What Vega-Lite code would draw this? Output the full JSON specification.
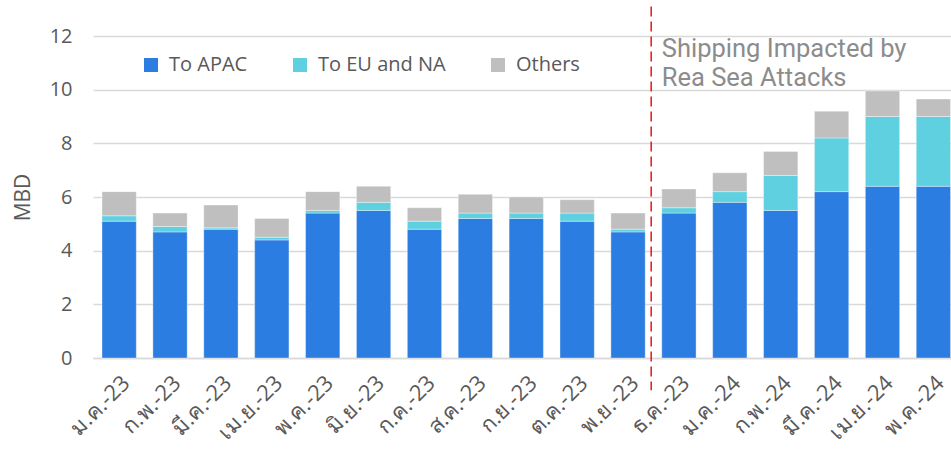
{
  "$schema": "https://vega.github.io/schema/vega-lite/v6.json",
  "width": 858,
  "height": 322,
  "autosize": {"type": "none"},
  "padding": {"left": 93, "top": 36, "right": 0, "bottom": 94},
  "background": "#ffffff",
  "config": {"view": {"stroke": null}, "font": "Open Sans"},
  "datasets": {
    "bars": [
      {"month": "ม.ค.-23", "series": "To APAC", "rank": 1, "value": 5.1},
      {"month": "ม.ค.-23", "series": "To EU and NA", "rank": 2, "value": 0.2},
      {"month": "ม.ค.-23", "series": "Others", "rank": 3, "value": 0.9},
      {"month": "ก.พ.-23", "series": "To APAC", "rank": 1, "value": 4.7},
      {"month": "ก.พ.-23", "series": "To EU and NA", "rank": 2, "value": 0.2},
      {"month": "ก.พ.-23", "series": "Others", "rank": 3, "value": 0.5},
      {"month": "มี.ค.-23", "series": "To APAC", "rank": 1, "value": 4.8},
      {"month": "มี.ค.-23", "series": "To EU and NA", "rank": 2, "value": 0.05},
      {"month": "มี.ค.-23", "series": "Others", "rank": 3, "value": 0.85},
      {"month": "เม.ย.-23", "series": "To APAC", "rank": 1, "value": 4.4},
      {"month": "เม.ย.-23", "series": "To EU and NA", "rank": 2, "value": 0.1},
      {"month": "เม.ย.-23", "series": "Others", "rank": 3, "value": 0.7},
      {"month": "พ.ค.-23", "series": "To APAC", "rank": 1, "value": 5.4},
      {"month": "พ.ค.-23", "series": "To EU and NA", "rank": 2, "value": 0.1},
      {"month": "พ.ค.-23", "series": "Others", "rank": 3, "value": 0.7},
      {"month": "มิ.ย.-23", "series": "To APAC", "rank": 1, "value": 5.5},
      {"month": "มิ.ย.-23", "series": "To EU and NA", "rank": 2, "value": 0.3},
      {"month": "มิ.ย.-23", "series": "Others", "rank": 3, "value": 0.6},
      {"month": "ก.ค.-23", "series": "To APAC", "rank": 1, "value": 4.8},
      {"month": "ก.ค.-23", "series": "To EU and NA", "rank": 2, "value": 0.3},
      {"month": "ก.ค.-23", "series": "Others", "rank": 3, "value": 0.5},
      {"month": "ส.ค.-23", "series": "To APAC", "rank": 1, "value": 5.2},
      {"month": "ส.ค.-23", "series": "To EU and NA", "rank": 2, "value": 0.2},
      {"month": "ส.ค.-23", "series": "Others", "rank": 3, "value": 0.7},
      {"month": "ก.ย.-23", "series": "To APAC", "rank": 1, "value": 5.2},
      {"month": "ก.ย.-23", "series": "To EU and NA", "rank": 2, "value": 0.2},
      {"month": "ก.ย.-23", "series": "Others", "rank": 3, "value": 0.6},
      {"month": "ต.ค.-23", "series": "To APAC", "rank": 1, "value": 5.1},
      {"month": "ต.ค.-23", "series": "To EU and NA", "rank": 2, "value": 0.3},
      {"month": "ต.ค.-23", "series": "Others", "rank": 3, "value": 0.5},
      {"month": "พ.ย.-23", "series": "To APAC", "rank": 1, "value": 4.7},
      {"month": "พ.ย.-23", "series": "To EU and NA", "rank": 2, "value": 0.1},
      {"month": "พ.ย.-23", "series": "Others", "rank": 3, "value": 0.6},
      {"month": "ธ.ค.-23", "series": "To APAC", "rank": 1, "value": 5.4},
      {"month": "ธ.ค.-23", "series": "To EU and NA", "rank": 2, "value": 0.2},
      {"month": "ธ.ค.-23", "series": "Others", "rank": 3, "value": 0.7},
      {"month": "ม.ค.-24", "series": "To APAC", "rank": 1, "value": 5.8},
      {"month": "ม.ค.-24", "series": "To EU and NA", "rank": 2, "value": 0.4},
      {"month": "ม.ค.-24", "series": "Others", "rank": 3, "value": 0.7},
      {"month": "ก.พ.-24", "series": "To APAC", "rank": 1, "value": 5.5},
      {"month": "ก.พ.-24", "series": "To EU and NA", "rank": 2, "value": 1.3},
      {"month": "ก.พ.-24", "series": "Others", "rank": 3, "value": 0.9},
      {"month": "มี.ค.-24", "series": "To APAC", "rank": 1, "value": 6.2},
      {"month": "มี.ค.-24", "series": "To EU and NA", "rank": 2, "value": 2.0},
      {"month": "มี.ค.-24", "series": "Others", "rank": 3, "value": 1.0},
      {"month": "เม.ย.-24", "series": "To APAC", "rank": 1, "value": 6.4},
      {"month": "เม.ย.-24", "series": "To EU and NA", "rank": 2, "value": 2.6},
      {"month": "เม.ย.-24", "series": "Others", "rank": 3, "value": 0.95},
      {"month": "พ.ค.-24", "series": "To APAC", "rank": 1, "value": 6.4},
      {"month": "พ.ค.-24", "series": "To EU and NA", "rank": 2, "value": 2.6},
      {"month": "พ.ค.-24", "series": "Others", "rank": 3, "value": 0.65}
    ]
  },
  "layer": [
    {
      "data": {"name": "bars"},
      "mark": {"type": "bar", "stroke": "#ffffff", "strokeWidth": 0.6, "strokeOpacity": 0.6},
      "encoding": {
        "x": {
          "field": "month",
          "type": "nominal",
          "sort": null,
          "scale": {"paddingInner": 0.326, "paddingOuter": 0.093, "align": 0.95},
          "axis": {
            "title": null,
            "labelAngle": -45,
            "labelAlign": "right",
            "labelBaseline": "top",
            "labelFontSize": 22,
            "labelColor": "#595959",
            "labelPadding": 14,
            "labelDx": 3,
            "ticks": false,
            "domain": true,
            "domainColor": "#d9d9d9",
            "domainWidth": 1.5
          }
        },
        "y": {
          "field": "value",
          "type": "quantitative",
          "stack": "zero",
          "scale": {"domain": [0, 12], "nice": false},
          "axis": {
            "values": [0, 2, 4, 6, 8, 10, 12],
            "grid": true,
            "gridColor": "#d9d9d9",
            "gridWidth": 1.5,
            "domain": false,
            "ticks": false,
            "labelPadding": 21,
            "labelFontSize": 20,
            "labelColor": "#595959",
            "title": "MBD",
            "titleFontSize": 21,
            "titleFontWeight": "normal",
            "titleColor": "#595959",
            "titleAngle": -90,
            "titleX": -70,
            "titleY": 161,
            "titleAlign": "center",
            "titleBaseline": "middle"
          }
        },
        "color": {
          "field": "series",
          "type": "nominal",
          "scale": {
            "domain": ["To APAC", "To EU and NA", "Others"],
            "range": ["#2b7de1", "#5fd0e0", "#bfbfbf"]
          },
          "legend": {
            "title": null,
            "orient": "none",
            "legendX": 48,
            "legendY": 19,
            "direction": "horizontal",
            "symbolType": "square",
            "symbolSize": 196,
            "symbolStrokeWidth": 0,
            "labelFontSize": 20,
            "labelColor": "#595959",
            "labelOffset": 8,
            "columnPadding": 42,
            "padding": 0
          }
        },
        "order": {"field": "rank", "type": "quantitative"}
      }
    },
    {
      "data": {"values": [{}]},
      "mark": {"type": "rule", "color": "#e8141c", "strokeWidth": 1.5, "strokeDash": [10, 5], "xOffset": 6},
      "encoding": {
        "x": {"datum": "พ.ย.-23", "bandPosition": 1},
        "y": {"datum": 13.1},
        "y2": {"datum": -1.2}
      }
    },
    {
      "data": {"values": [{}]},
      "mark": {"type": "text", "font": "Roboto", "fontSize": 25.5, "color": "#8c8c8c", "align": "left", "baseline": "middle", "lineHeight": 29},
      "encoding": {
        "x": {"datum": "ธ.ค.-23", "bandPosition": 0},
        "y": {"datum": 11.53},
        "text": {"value": ["Shipping Impacted by", "Rea Sea Attacks"]}
      }
    }
  ]
}
